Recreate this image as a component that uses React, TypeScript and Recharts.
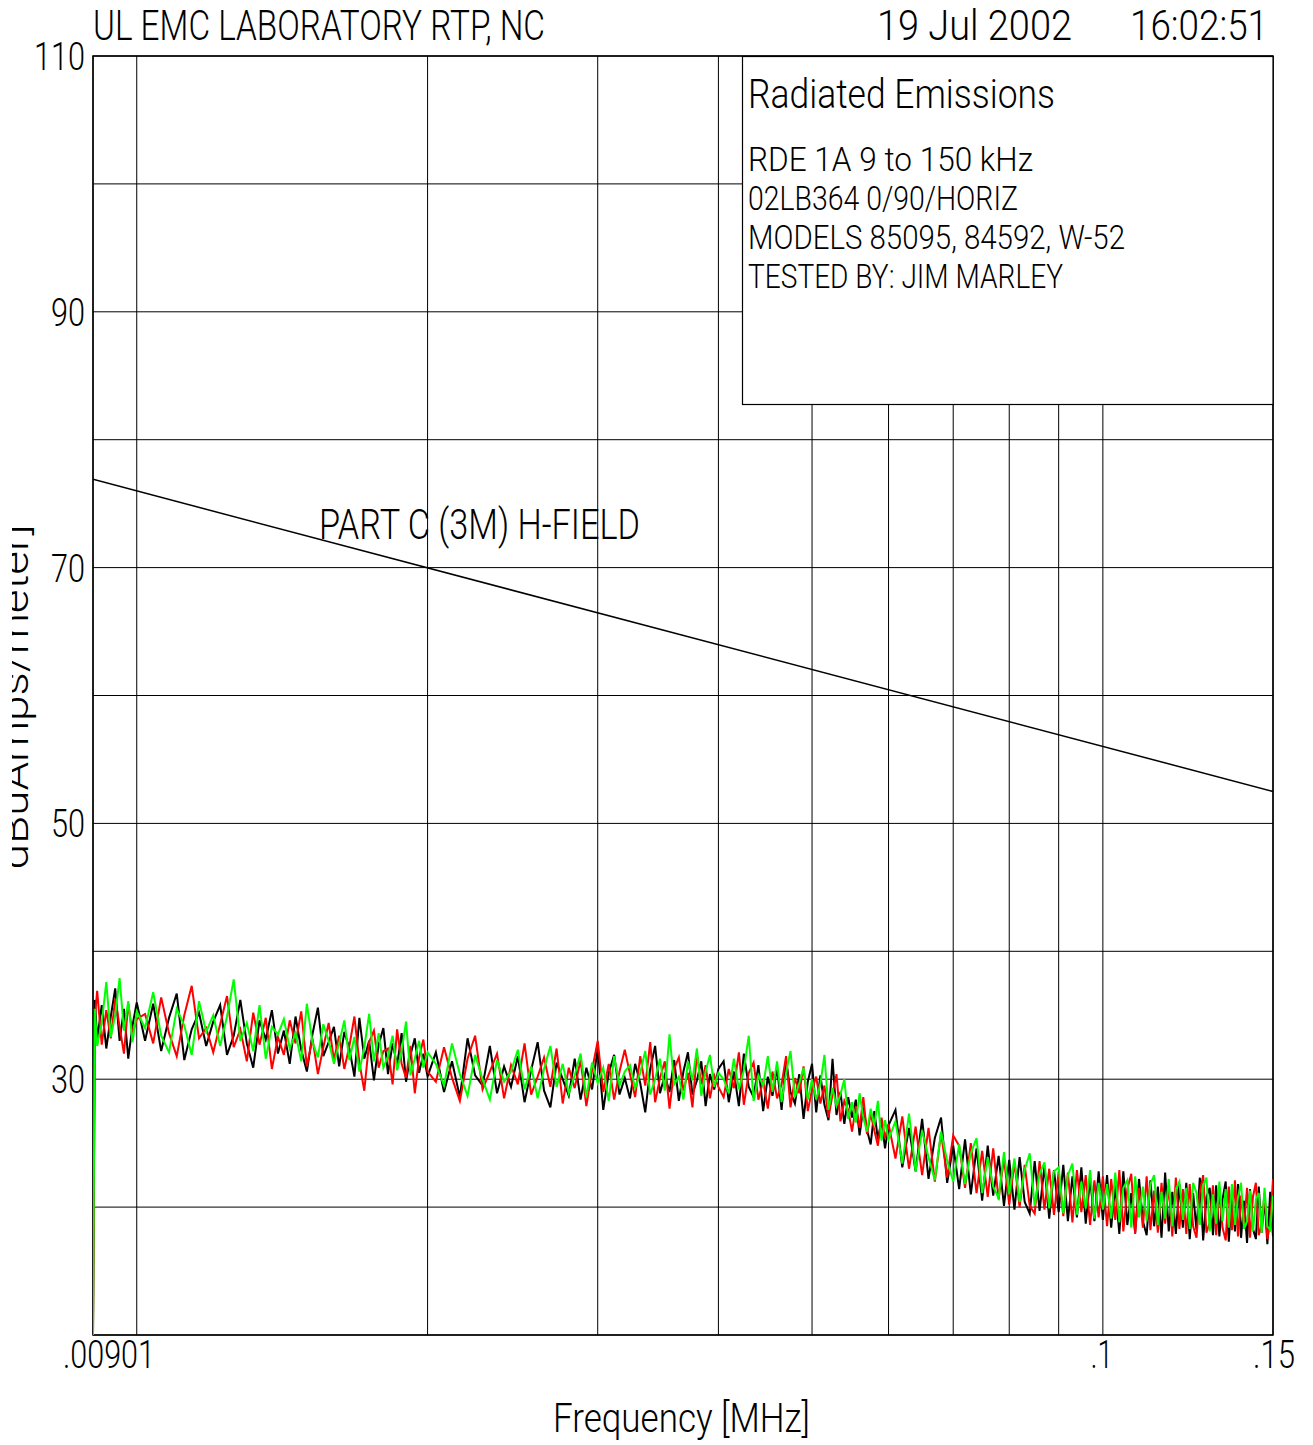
import React from 'react';
import { LineChart, Line, XAxis, YAxis, CartesianGrid, Customized } from 'recharts';

// ---------- data ----------
const freqKHz = [
  9.01, 9.05, 9.1, 9.2, 9.3, 9.4, 9.5, 9.6, 9.7, 9.8, 9.9, 10.0,
  10.2, 10.4, 10.6, 10.8, 11.0, 11.2, 11.4, 11.6, 11.8, 12.0,
  12.2, 12.4, 12.6, 12.8, 13.0, 13.2, 13.4, 13.6, 13.8, 14.0,
  14.2, 14.4, 14.6, 14.8, 15.0, 15.2, 15.4, 15.6, 15.8, 16.0,
  16.2, 16.4, 16.6, 16.8, 17.0, 17.2, 17.4, 17.6, 17.8, 18.0,
  18.2, 18.4, 18.6, 18.8, 19.0, 19.2, 19.4, 19.6, 19.8, 20.0,
  20.4, 20.8, 21.2, 21.6, 22.0, 22.4, 22.8, 23.2, 23.6, 24.0,
  24.4, 24.8, 25.2, 25.6, 26.0, 26.4, 26.8, 27.2, 27.6, 28.0,
  28.4, 28.8, 29.2, 29.6, 30.0, 30.4, 30.8, 31.2, 31.6, 32.0,
  32.4, 32.8, 33.2, 33.6, 34.0, 34.4, 34.8, 35.2, 35.6, 36.0,
  36.4, 36.8, 37.2, 37.6, 38.0, 38.4, 38.8, 39.2, 39.6, 40.0,
  40.5, 41.0, 41.5, 42.0, 42.5, 43.0, 43.5, 44.0, 44.5, 45.0,
  45.5, 46.0, 46.5, 47.0, 47.5, 48.0, 48.5, 49.0, 49.5, 50.0,
  50.5, 51.0, 51.5, 52.0, 52.5, 53.0, 53.5, 54.0, 54.5, 55.0,
  55.5, 56.0, 56.5, 57.0, 57.5, 58.0, 58.5, 59.0, 59.5, 60.0,
  61, 62, 63, 64, 65, 66, 67, 68, 69, 70,
  71, 72, 73, 74, 75, 76, 77, 78, 79, 80,
  81, 82, 83, 84, 85, 86, 87, 88, 89, 90,
  91, 92, 93, 94, 95, 96, 97, 98, 99, 100,
  101, 102, 103, 104, 105, 106, 107, 108, 109, 110,
  111, 112, 113, 114, 115, 116, 117, 118, 119, 120,
  121, 122, 123, 124, 125, 126, 127, 128, 129, 130,
  131, 132, 133, 134, 135, 136, 137, 138, 139, 140,
  141, 142, 143, 144, 145, 146, 147, 148, 149, 150,
];

const blackTrace = [
  10, 36.2, 33.1, 35.8, 32.4, 34.9, 37.1, 33.0, 35.5, 31.6, 34.2, 36.0,
  33.0, 35.9, 32.2, 34.8, 36.7, 31.5, 33.9, 35.2, 32.6, 34.5,
  35.8, 31.9, 33.4, 36.2, 32.8, 30.9, 34.6, 33.1, 35.4, 32.0,
  33.8, 31.2, 34.9, 32.3, 30.6, 33.5, 35.6, 31.8, 32.9, 34.1,
  31.0, 33.7, 32.4, 30.2, 34.8, 31.6, 33.0, 29.9, 32.7, 34.0,
  30.4, 32.8, 31.1, 33.6, 29.8, 31.9, 33.2, 30.5, 32.0, 30.2,
  32.1, 29.0, 31.4, 28.6, 33.2, 30.3, 29.5, 32.6, 28.9, 31.0,
  29.4, 31.8, 28.2, 30.7, 32.9, 29.1, 27.8, 31.3, 30.0, 28.7,
  31.6, 28.4, 30.9, 29.2, 32.4, 27.6, 30.5, 31.9, 28.8, 30.1,
  28.5, 31.2, 29.7, 27.4, 30.8, 32.6, 28.9, 30.3, 29.0, 31.5,
  28.3, 30.6, 32.1, 28.8, 29.9, 31.4, 27.9, 30.4, 29.2, 30.8,
  31.4, 28.2, 30.6, 27.9, 32.0, 29.4, 28.6, 31.1, 27.5, 30.2,
  28.7, 30.9, 27.6, 31.5, 29.0, 28.1, 30.4, 26.9, 29.8, 31.2,
  27.4, 30.3, 28.0, 26.8, 31.6, 27.2, 29.0, 26.5, 28.6, 27.0,
  28.4, 25.6, 27.8, 26.0, 24.9, 27.5, 25.3, 26.8, 24.6, 26.4,
  27.6, 23.1, 26.2, 22.8, 26.9, 22.2, 25.4, 27.0, 21.9, 24.8,
  21.4, 25.3, 21.0, 24.6, 20.5, 24.8, 20.9, 24.0, 20.1, 23.7,
  19.8, 23.9, 20.4, 19.5, 23.6, 19.7, 23.2, 19.1, 22.9, 19.6,
  23.3, 18.9, 22.4, 19.2, 23.1, 18.7, 22.2, 18.9, 22.8, 19.0,
  22.5, 18.4, 21.7, 17.9, 22.8, 18.6, 21.1, 18.0, 22.2, 18.9,
  17.8, 22.1, 18.5, 21.6, 17.6, 22.7, 18.1, 21.2, 17.9, 21.8,
  18.4, 21.9, 17.5, 21.1, 18.2, 22.3, 17.4, 20.8, 21.5, 17.8,
  21.7, 17.7, 20.6, 22.0, 17.3, 21.0, 18.1, 21.8, 17.6, 20.5,
  17.2, 21.4, 18.3, 17.5, 21.6, 18.0, 20.7, 17.1, 21.2, 17.7,
];

const redTrace = [
  10, 34.8, 36.9, 32.7, 35.4, 33.2, 36.3, 34.1, 32.0, 35.9, 33.5, 34.7,
  35.1, 32.8, 36.4, 33.6, 31.8, 35.0, 37.3, 33.2, 34.0, 32.1,
  34.3, 36.5, 32.5, 33.9, 31.4, 35.2, 32.7, 34.8, 30.8, 33.3,
  31.9, 34.6, 32.8, 35.3, 31.0, 33.2, 30.4, 32.5, 34.4, 31.5,
  33.4, 30.8, 32.6, 34.9, 31.3, 29.1, 32.9, 33.8, 30.9, 32.2,
  32.4, 29.6, 33.9, 31.2, 30.1, 32.6, 28.9, 31.7, 33.1, 30.6,
  29.8, 32.5, 30.1, 28.3, 31.6, 33.4, 29.2, 30.6, 32.0, 28.5,
  31.1, 29.6, 32.8, 28.8, 30.2, 31.7, 29.4, 32.4, 28.1, 30.9,
  29.3, 31.5, 27.9, 30.7, 33.0, 29.0, 31.2, 28.4, 30.6, 32.3,
  30.4, 28.6, 31.8, 29.5, 32.9, 28.2, 30.1, 31.4, 27.7, 30.8,
  31.7, 29.1, 30.5, 27.8, 32.0, 29.6, 31.1, 28.5, 30.3, 29.4,
  28.6, 30.8, 29.3, 32.1, 28.0, 30.5, 31.3, 28.4, 29.9, 27.7,
  30.6, 28.5, 29.6, 31.8, 27.8, 30.1, 28.9, 31.0, 27.5, 29.2,
  30.2, 28.1, 29.5, 27.0, 28.8, 30.4, 26.7, 28.3, 27.6, 25.9,
  27.9, 26.2, 28.6, 25.7, 27.3, 26.0, 24.8, 27.0, 25.4, 26.5,
  23.8, 27.1, 23.0, 26.3, 22.5, 26.2, 22.0, 25.8, 22.3, 25.6,
  24.8, 21.5, 25.0, 21.1, 24.4, 20.8, 24.6, 20.6, 23.8, 20.2,
  23.5, 20.0, 23.3, 20.1, 19.5, 23.6, 19.8, 23.0, 19.4, 22.8,
  19.3, 22.7, 18.8, 22.9, 19.6, 22.5, 18.6, 22.1, 19.2, 22.4,
  18.5, 22.2, 19.0, 22.9, 18.1, 21.4, 22.6, 17.9, 21.5, 18.4,
  22.4, 18.2, 21.3, 18.0, 21.9, 18.7, 21.7, 17.7, 22.3, 18.3,
  21.4, 17.9, 21.8, 18.5, 17.6, 21.2, 22.5, 18.0, 18.8, 21.7,
  17.8, 21.3, 18.4, 17.4, 21.6, 18.2, 22.1, 17.7, 20.9, 18.5,
  21.5, 17.6, 20.8, 21.9, 17.8, 18.6, 21.1, 17.5, 18.7, 22.2,
];

const greenTrace = [
  10, 35.5, 32.6, 34.4, 37.6, 33.3, 35.0, 37.9, 33.8, 36.1, 32.9, 35.3,
  34.0, 36.8, 33.4, 32.1, 35.5, 34.2, 31.9, 36.1, 33.7, 35.0,
  32.6, 34.9, 37.8, 33.0, 34.4, 32.2, 35.8, 31.6, 34.1, 33.5,
  34.7, 32.4, 33.6, 31.4, 35.9, 32.9, 31.7, 34.3, 33.0, 31.2,
  32.8, 34.6, 31.5, 33.3, 30.6, 32.5, 35.1, 31.4, 33.6, 30.9,
  31.8, 33.4, 30.7, 32.2, 34.5, 30.3, 31.6, 33.0, 30.9, 32.1,
  31.2, 29.5, 32.8, 30.4, 28.7, 31.9, 30.0, 28.4, 31.5, 29.8,
  30.6, 32.3, 29.2, 31.0, 28.5, 30.8, 32.6, 29.4, 31.2, 28.9,
  30.3, 32.0, 28.6, 31.3, 29.7, 30.9, 28.3, 31.8, 29.5, 30.6,
  31.1, 29.3, 30.5, 32.2, 28.8, 30.0, 31.6, 29.1, 33.5, 29.6,
  30.2, 28.4, 31.4, 29.9, 32.4, 28.7, 30.6, 31.9, 29.4, 30.5,
  30.0, 28.9, 31.6, 29.2, 30.7, 33.4, 28.3, 30.3, 29.5, 31.8,
  29.0, 31.4, 28.2, 30.5, 32.2, 28.6, 29.7, 30.9, 28.4, 30.0,
  28.4, 29.6, 31.9, 27.6, 29.3, 27.9, 28.8, 30.0, 26.9, 28.2,
  26.6, 28.9, 27.0, 25.9, 27.7, 26.4, 28.3, 25.2, 26.8, 25.3,
  26.7, 23.4, 27.3, 22.8, 26.0, 23.9, 22.1, 25.9, 23.6, 22.0,
  24.9, 21.8, 24.2, 25.4, 21.1, 23.9, 21.6, 20.7, 24.3, 21.0,
  23.8, 20.4, 22.9, 24.2, 20.1, 22.6, 23.5, 19.9, 22.8, 23.1,
  19.5, 22.5, 23.4, 19.4, 22.0, 19.9, 22.9, 19.1, 21.9, 19.8,
  21.8, 19.1, 22.7, 18.8, 21.5, 22.1, 18.4, 22.4, 19.2, 21.6,
  18.9, 21.8, 22.5, 18.6, 21.2, 19.1, 22.2, 18.5, 21.4, 22.0,
  19.0, 21.5, 18.3, 21.9, 21.1, 18.6, 21.7, 22.3, 18.1, 21.0,
  18.7, 22.0, 18.9, 21.4, 18.4, 21.8, 18.6, 20.8, 21.9, 18.3,
  18.9, 21.3, 18.1, 20.6, 21.1, 18.0, 21.5, 18.5, 18.2, 20.9,
];

const limitFreqMHz = [0.00901, 0.15];
const limitLevel = [76.9, 52.5];

const xGridTicks = [0.00901, 0.01, 0.02, 0.03, 0.04, 0.05, 0.06, 0.07, 0.08, 0.09, 0.1, 0.15];
const xLabelTicks = [0.00901, 0.1, 0.15];
const xLabelTexts = ['.00901', '.1', '.15'];
const yGridTicks = [10, 20, 30, 40, 50, 60, 70, 80, 90, 100, 110];
const yLabelTicks = [30, 50, 70, 90, 110];

const headerLeft = 'UL EMC LABORATORY RTP, NC';
const headerDate = '19 Jul 2002';
const headerTime = '16:02:51';
const boxTitle = 'Radiated Emissions';
const boxLines = ['RDE 1A 9 to 150 kHz', '02LB364 0/90/HORIZ', 'MODELS 85095, 84592, W-52', 'TESTED BY: JIM MARLEY'];
const limitLabel = 'PART C (3M) H-FIELD';
const xTitle = 'Frequency [MHz]';
const yTitle = 'dBuAmps/meter]';

const traceData = freqKHz.map((f, i) => ({ f: f / 1000, k: blackTrace[i], r: redTrace[i], g: greenTrace[i] }));
const limitData = limitFreqMHz.map((f, i) => ({ f, v: limitLevel[i] }));

// ---------- styling / layout ----------
const FONT = "Roboto, 'DejaVu Sans', sans-serif";
const W = 1313;
const H = 1445;
const PLOT = { left: 93, top: 56, right: 1273, bottom: 1335 };
const xLabelLayout = [
  { dx: -30, w: 92 },
  { dx: -12, w: 22 },
  { dx: -20, w: 42 },
];
const boxLineLayout = [
  { y: 171, w: 285 },
  { y: 210, w: 270 },
  { y: 249, w: 377 },
  { y: 288, w: 315 },
];

function T({ x, y, w, size, anchor = 'start', children }: any) {
  return (
    <text
      x={x}
      y={y}
      fontSize={size}
      fontFamily={FONT}
      fontWeight={300}
      textAnchor={anchor}
      textLength={w}
      lengthAdjust="spacingAndGlyphs"
      fill="#000"
    >
      {children}
    </text>
  );
}

function XTick(props: any) {
  const { x, payload } = props;
  const i = xLabelTicks.indexOf(payload.value);
  if (i < 0) return <g />;
  const l = xLabelLayout[i];
  return (
    <T x={x + l.dx} y={1368} w={l.w} size={39}>
      {xLabelTexts[i]}
    </T>
  );
}

function YTick(props: any) {
  const { y, payload } = props;
  if (!yLabelTicks.includes(payload.value)) return <g />;
  const s = String(payload.value);
  return (
    <T x={85} y={y + 14} w={s.length * 17} size={39} anchor="end">
      {s}
    </T>
  );
}

function Overlay() {
  return (
    <g>
      <rect
        x={PLOT.left}
        y={PLOT.top}
        width={PLOT.right - PLOT.left}
        height={PLOT.bottom - PLOT.top}
        fill="none"
        stroke="#000"
        strokeWidth={1.5}
      />
      <T x={93} y={40} w={452} size={43}>{headerLeft}</T>
      <T x={877} y={40} w={195} size={43}>{headerDate}</T>
      <T x={1130} y={40} w={138} size={43}>{headerTime}</T>
      <rect x={742.5} y={56.5} width={530.5} height={348} fill="#fff" stroke="#000" strokeWidth={1.2} />
      <T x={748} y={108} w={307} size={40}>{boxTitle}</T>
      {boxLines.map((s, i) => (
        <T key={s} x={748} y={boxLineLayout[i].y} w={boxLineLayout[i].w} size={33}>
          {s}
        </T>
      ))}
      <T x={319} y={539} w={321} size={42}>{limitLabel}</T>
      <T x={553} y={1432} w={257} size={40}>{xTitle}</T>
      <defs>
        <clipPath id="ylabelclip">
          <rect x={12} y={0} width={60} height={H} />
        </clipPath>
      </defs>
      <g clipPath="url(#ylabelclip)">
        <text
          transform="translate(28,697) rotate(-90)"
          fontSize={38}
          fontFamily={FONT}
          fontWeight={300}
          textAnchor="middle"
          textLength={345}
          lengthAdjust="spacingAndGlyphs"
          fill="#000"
        >
          {yTitle}
        </text>
      </g>
    </g>
  );
}

export default function App() {
  return (
    <div style={{ position: 'absolute', left: 0, top: 0, width: W, height: H, background: '#fff' }}>
      <LineChart
        width={W}
        height={H}
        data={traceData}
        margin={{ top: PLOT.top, right: W - PLOT.right, bottom: H - PLOT.bottom - 1, left: PLOT.left - 1 }}
      >
        <CartesianGrid stroke="#000" strokeWidth={1} />
        <XAxis
          dataKey="f"
          type="number"
          scale="log"
          domain={[0.00901, 0.15]}
          allowDataOverflow
          ticks={xGridTicks}
          interval={0}
          tick={<XTick />}
          tickLine={false}
          axisLine={false}
          height={1}
        />
        <YAxis
          type="number"
          domain={[10, 110]}
          allowDataOverflow
          ticks={yGridTicks}
          interval={0}
          tick={<YTick />}
          tickLine={false}
          axisLine={false}
          width={1}
        />
        <Customized component={Overlay} />
        <Line data={limitData} dataKey="v" stroke="#000" strokeWidth={1.5} dot={false} isAnimationActive={false} />
        <Line dataKey="k" stroke="#000000" strokeWidth={2} dot={false} isAnimationActive={false} />
        <Line dataKey="r" stroke="#ff0000" strokeWidth={2} dot={false} isAnimationActive={false} />
        <Line dataKey="g" stroke="#00ff00" strokeWidth={2} dot={false} isAnimationActive={false} />
      </LineChart>
    </div>
  );
}
